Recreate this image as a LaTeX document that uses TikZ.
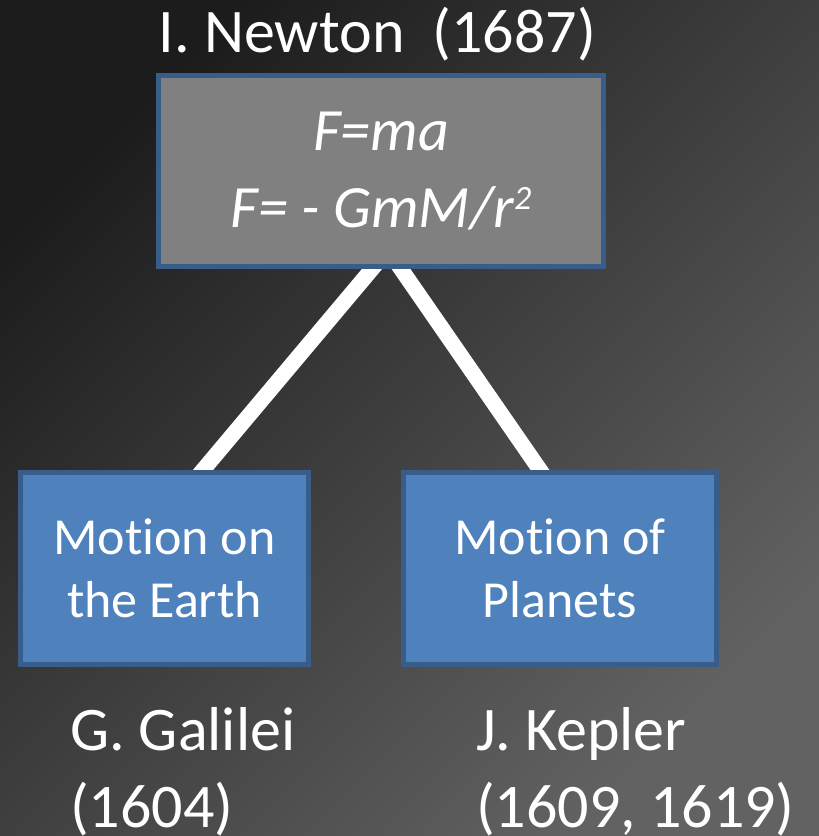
\documentclass[tikz,border=0pt]{standalone}
\usepackage{fontspec}
\setmainfont{Carlito}[Ligatures={NoCommon,NoRare}]
\pgfdeclarelayer{bg}
\pgfdeclarelayer{links}
\pgfsetlayers{bg,links,main}
\definecolor{bgdark}{HTML}{1C1C1C}
\definecolor{bglight}{HTML}{626262}
\definecolor{boxgray}{HTML}{808080}
\definecolor{boxblue}{HTML}{4F81BD}
\definecolor{boxedge}{HTML}{385D8A}
\tikzset{
  lawbox/.style={draw=boxedge, line width=5pt, fill=boxgray, text=white,
    inner sep=0pt, align=center, font=\fontsize{60}{77}\selectfont\itshape},
  topicbox/.style={draw=boxedge, line width=5pt, fill=boxblue, text=white,
    inner sep=0pt, align=center, font=\fontsize{52}{63}\selectfont},
  namelabel/.style={text=white, inner sep=0pt, font=\fontsize{62}{77}\selectfont},
  link/.style={draw=white, line width=15.5pt, shorten <=-10pt, shorten >=-10pt}
}
\begin{document}
\begin{tikzpicture}[x=1pt,y=1pt]
\begin{pgfonlayer}{bg}
  \shade[shading=axis, top color=bgdark, bottom color=bglight, shading angle=45]
    (0,0) rectangle (819,836);
\end{pgfonlayer}
\useasboundingbox (0,0) rectangle (819,836);

\node[lawbox, minimum width=445pt, minimum height=191pt] (law) at (381,665)
  {F=ma\\F= - GmM/r\raisebox{18pt}{\fontsize{34}{34}\selectfont 2}};
\node[topicbox, minimum width=288pt, minimum height=192pt] (earth) at (164.5,267.5)
  {Motion on\\the Earth};
\node[topicbox, minimum width=313pt, minimum height=192pt] (planets) at (560,267.5)
  {Motion of\\Planets};

\node[namelabel, anchor=base] (newton) at (377.5,783) {I. Newton~~(1687)};
\node[namelabel, anchor=base west, align=left] (galilei) at (70,9) {G. Galilei\\(1604)};
\node[namelabel, anchor=base west, align=left] (kepler) at (476,9) {J. Kepler\\(1609, 1619)};

\coordinate (lawL) at ([xshift=-9pt]law.south);
\coordinate (lawR) at ([xshift=20pt]law.south);
\coordinate (earthT) at ([xshift=38.5pt]earth.north);
\coordinate (planetsT) at ([xshift=-20pt]planets.north);
\begin{pgfonlayer}{links}
  \draw[link] (lawL) -- (earthT);
  \draw[link] (lawR) -- (planetsT);
\end{pgfonlayer}
\end{tikzpicture}
\end{document}
